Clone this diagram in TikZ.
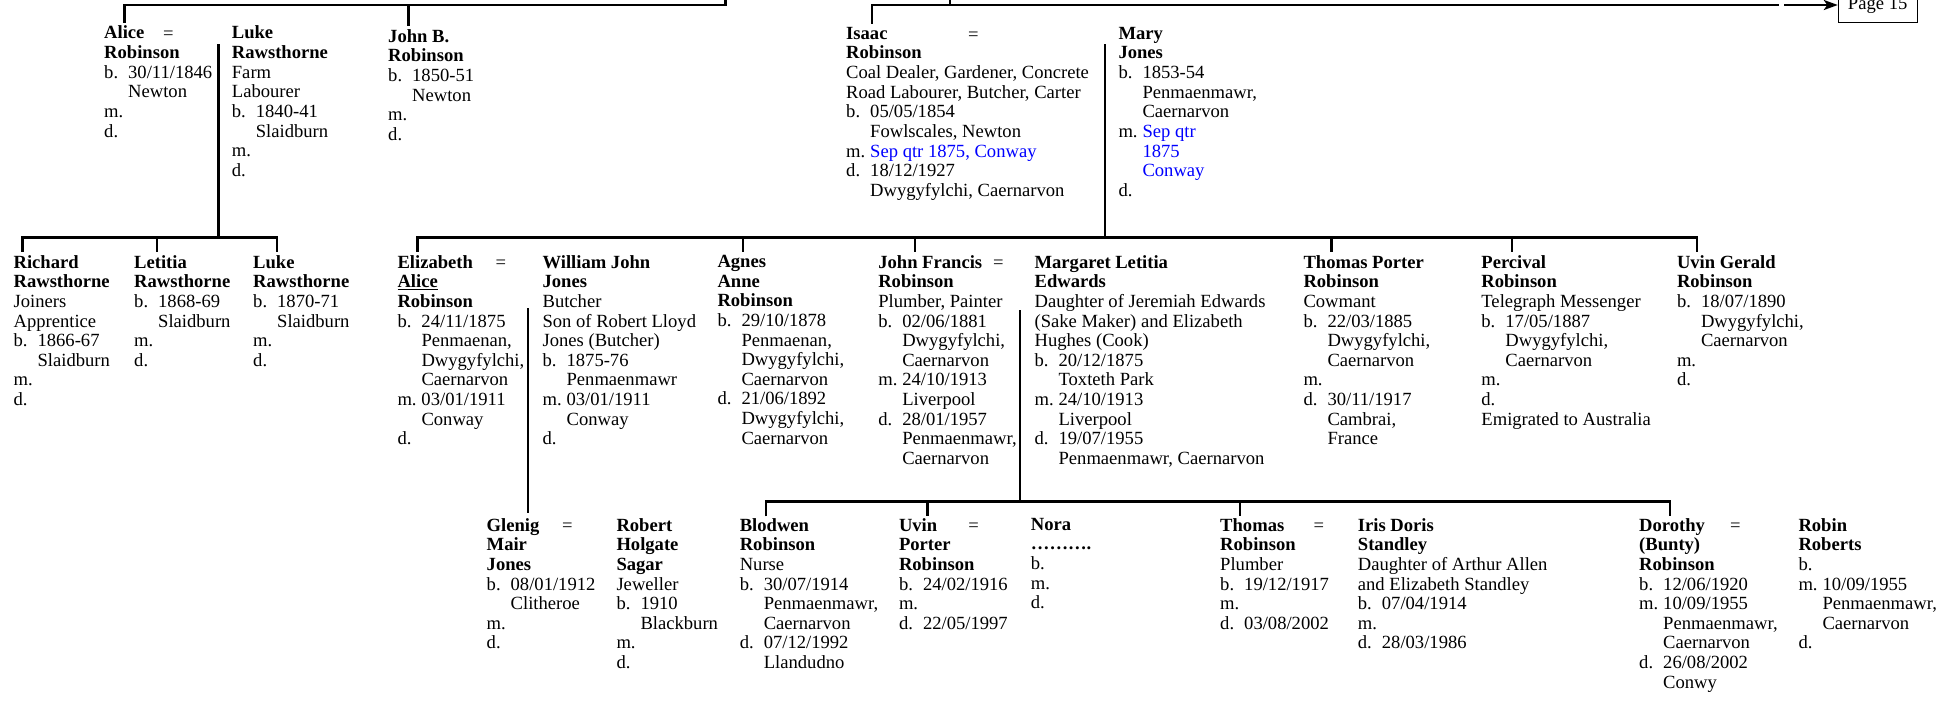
\documentclass[tikz,border=0pt]{standalone}
\usepackage{fontspec}
\setmainfont{Liberation Serif}
\usetikzlibrary{arrows.meta}
\definecolor{lnk}{RGB}{0,0,255}
\newcommand\pfont{\fontsize{18.6}{19.65}\selectfont}
\newcommand\lab[1]{\makebox[24pt][l]{#1}}
\newcommand\ind{\hspace*{24pt}}
\newcommand\bl[1]{\textcolor{lnk}{#1}}
\begin{document}
\begin{tikzpicture}[x=1pt,y=-1pt,
  person/.style={anchor=north west, inner sep=0pt, align=left, font=\pfont, execute at begin node=\strut},
  eqsign/.style={anchor=base west, inner sep=0pt, font=\pfont},
  line/.style={line width=2.5pt},
  dropline/.style={line width=2.5pt, shorten >=3pt},
]
\useasboundingbox (0,0) rectangle (1944,701);

% ---------- generation 1 ----------
\node[person] (alice) at (104,25.75) {\textbf{Alice}\\ \textbf{Robinson}\\ \lab{b.}30/11/1846\\ \ind Newton\\ m.\\ d.};
\node[eqsign] (eqalice) at (163,39.5) {=};
\node[person] (luke) at (231.7,25.75) {\textbf{Luke}\\ \textbf{Rawsthorne}\\ Farm\\ Labourer\\ \lab{b.}1840-41\\ \ind Slaidburn\\ m.\\ d.};
\node[person] (johnb) at (388,28.95) {\textbf{John B.}\\ \textbf{Robinson}\\ \lab{b.}1850-51\\ \ind Newton\\ m.\\ d.};
\node[person] (isaac) at (846,26.95) {\textbf{Isaac}\\ \textbf{Robinson}\\ Coal Dealer, Gardener, Concrete\\ Road Labourer, Butcher, Carter\\ \lab{b.}05/05/1854\\ \ind Fowlscales, Newton\\ \lab{m.}\bl{Sep qtr 1875, Conway}\\ \lab{d.}18/12/1927\\ \ind Dwygyfylchi, Caernarvon};
\node[eqsign] (eqisaac) at (968,40.7) {=};
\node[person] (mary) at (1118.3,26.95) {\textbf{Mary}\\ \textbf{Jones}\\ \lab{b.}1853-54\\ \ind Penmaenmawr,\\ \ind Caernarvon\\ \lab{m.}\bl{Sep qtr}\\ \ind\bl{1875}\\ \ind\bl{Conway}\\ d.};

\node[draw, line width=0.8pt, inner xsep=0pt, inner ysep=9.3pt, text height=12.2pt, text depth=4pt, minimum width=78.9pt, font=\pfont, anchor=south west] (p15) at (1837.8,23.3) {Page 15};

% ---------- generation 2 ----------
\node[person] (richard) at (13.4,254.95) {\textbf{Richard}\\ \textbf{Rawsthorne}\\ Joiners\\ Apprentice\\ \lab{b.}1866-67\\ \ind Slaidburn\\ m.\\ d.};
\node[person] (letitia) at (134,254.95) {\textbf{Letitia}\\ \textbf{Rawsthorne}\\ \lab{b.}1868-69\\ \ind Slaidburn\\ m.\\ d.};
\node[person] (luketwo) at (253,254.95) {\textbf{Luke}\\ \textbf{Rawsthorne}\\ \lab{b.}1870-71\\ \ind Slaidburn\\ m.\\ d.};
\node[person] (eliz) at (397.3,254.95) {\textbf{Elizabeth}\\ \textbf{\underline{Alice}}\\ \textbf{Robinson}\\ \lab{b.}24/11/1875\\ \ind Penmaenan,\\ \ind Dwygyfylchi,\\ \ind Caernarvon\\ \lab{m.}03/01/1911\\ \ind Conway\\ d.};
\node[eqsign] (eqeliz) at (495.5,268.7) {=};
\node[person] (william) at (542.4,254.95) {\textbf{William John}\\ \textbf{Jones}\\ Butcher\\ Son of Robert Lloyd\\ Jones (Butcher)\\ \lab{b.}1875-76\\ \ind Penmaenmawr\\ \lab{m.}03/01/1911\\ \ind Conway\\ d.};
\node[person] (agnes) at (717.3,254.95) {\textbf{Agnes}\\ \textbf{Anne}\\ \textbf{Robinson}\\ \lab{b.}29/10/1878\\ \ind Penmaenan,\\ \ind Dwygyfylchi,\\ \ind Caernarvon\\ \lab{d.}21/06/1892\\ \ind Dwygyfylchi,\\ \ind Caernarvon};
\node[person] (johnf) at (878.1,254.95) {\textbf{John Francis}\\ \textbf{Robinson}\\ Plumber, Painter\\ \lab{b.}02/06/1881\\ \ind Dwygyfylchi,\\ \ind Caernarvon\\ \lab{m.}24/10/1913\\ \ind Liverpool\\ \lab{d.}28/01/1957\\ \ind Penmaenmawr,\\ \ind Caernarvon};
\node[eqsign] (eqjohnf) at (993,268.7) {=};
\node[person] (margaret) at (1034.4,254.95) {\textbf{Margaret Letitia}\\ \textbf{Edwards}\\ Daughter of Jeremiah Edwards\\ (Sake Maker) and Elizabeth\\ Hughes (Cook)\\ \lab{b.}20/12/1875\\ \ind Toxteth Park\\ \lab{m.}24/10/1913\\ \ind Liverpool\\ \lab{d.}19/07/1955\\ \ind Penmaenmawr, Caernarvon};
\node[person] (thomasp) at (1303.3,254.95) {\textbf{Thomas Porter}\\ \textbf{Robinson}\\ Cowmant\\ \lab{b.}22/03/1885\\ \ind Dwygyfylchi,\\ \ind Caernarvon\\ m.\\ \lab{d.}30/11/1917\\ \ind Cambrai,\\ \ind France};
\node[person] (percival) at (1481.2,254.95) {\textbf{Percival}\\ \textbf{Robinson}\\ Telegraph Messenger\\ \lab{b.}17/05/1887\\ \ind Dwygyfylchi,\\ \ind Caernarvon\\ m.\\ d.\\ Emigrated to Australia};
\node[person] (uving) at (1676.8,254.95) {\textbf{Uvin Gerald}\\ \textbf{Robinson}\\ \lab{b.}18/07/1890\\ \ind Dwygyfylchi,\\ \ind Caernarvon\\ m.\\ d.};

% ---------- generation 3 ----------
\node[person] (glenig) at (486.5,517.95) {\textbf{Glenig}\\ \textbf{Mair}\\ \textbf{Jones}\\ \lab{b.}08/01/1912\\ \ind Clitheroe\\ m.\\ d.};
\node[eqsign] (eqglenig) at (562,531.7) {=};
\node[person] (robert) at (616.3,517.95) {\textbf{Robert}\\ \textbf{Holgate}\\ \textbf{Sagar}\\ Jeweller\\ \lab{b.}1910\\ \ind Blackburn\\ m.\\ d.};
\node[person] (blodwen) at (739.6,517.95) {\textbf{Blodwen}\\ \textbf{Robinson}\\ Nurse\\ \lab{b.}30/07/1914\\ \ind Penmaenmawr,\\ \ind Caernarvon\\ \lab{d.}07/12/1992\\ \ind Llandudno};
\node[person] (uvinp) at (898.8,517.95) {\textbf{Uvin}\\ \textbf{Porter}\\ \textbf{Robinson}\\ \lab{b.}24/02/1916\\ m.\\ \lab{d.}22/05/1997};
\node[eqsign] (equvin) at (968.2,531.7) {=};
\node[person] (nora) at (1030.7,517.95) {\textbf{Nora}\\ \textbf{……….}\\ b.\\ m.\\ d.};
\node[person] (thomas) at (1220,517.95) {\textbf{Thomas}\\ \textbf{Robinson}\\ Plumber\\ \lab{b.}19/12/1917\\ m.\\ \lab{d.}03/08/2002};
\node[eqsign] (eqthomas) at (1313.3,531.7) {=};
\node[person] (iris) at (1357.7,517.95) {\textbf{Iris Doris}\\ \textbf{Standley}\\ Daughter of Arthur Allen\\ and Elizabeth Standley\\ \lab{b.}07/04/1914\\ m.\\ \lab{d.}28/03/1986};
\node[person] (dorothy) at (1639,517.95) {\textbf{Dorothy}\\ \textbf{(Bunty)}\\ \textbf{Robinson}\\ \lab{b.}12/06/1920\\ \lab{m.}10/09/1955\\ \ind Penmaenmawr,\\ \ind Caernarvon\\ \lab{d.}26/08/2002\\ \ind Conwy};
\node[eqsign] (eqdor) at (1730,531.7) {=};
\node[person] (robin) at (1798.3,517.95) {\textbf{Robin}\\ \textbf{Roberts}\\ b.\\ \lab{m.}10/09/1955\\ \ind Penmaenmawr,\\ \ind Caernarvon\\ d.};

% ---------- connectors ----------
% top left: from above the page
\coordinate (tlA) at (124.5,5);
\coordinate (tlJ) at (408.5,5);
\coordinate (tlE) at (725.4,5);
\coordinate (tlU) at (725.4,-6);
\draw[line, shorten <=3pt] (tlA |- alice.north) -- (tlA) -- (tlE) -- (tlU);
\draw[dropline] (tlJ) -- (tlJ |- johnb.north);
% top right
\coordinate (trI) at (872,5);
\coordinate (trU) at (950,5);
\coordinate (trE) at (1778.5,5);
\coordinate (arS) at (1784.4,5);
\draw[line, shorten <=3pt] (trI |- isaac.north) -- (trI) -- (trE);
\draw[line] (trU) -- ++(0,-8);
\draw[line, -{Stealth[length=14pt,width=10pt,inset=3.5pt]}] (arS) -- (arS -| p15.west);

% Alice = Luke -> children
\coordinate (cAL) at (218.7,44.3);
\coordinate (bR1) at (22.3,237.3);
\coordinate (bR2) at (157,237.3);
\coordinate (bR3) at (276.8,237.3);
\draw[line] (cAL) -- (cAL |- bR1);
\draw[line, shorten <=3pt, shorten >=3pt] (bR1 |- richard.north) -- (bR1) -- (bR3) -- (bR3 |- luketwo.north);
\draw[dropline] (bR2) -- (bR2 |- letitia.north);

% Isaac = Mary -> children
\coordinate (cIM) at (1104.9,44.3);
\coordinate (bI1) at (417.4,237.3);
\coordinate (bI2) at (743,237.3);
\coordinate (bI3) at (915,237.3);
\coordinate (bI4) at (1331.7,237.3);
\coordinate (bI5) at (1512.1,237.3);
\coordinate (bI6) at (1697.1,237.3);
\draw[line] (cIM) -- (cIM |- bI1);
\draw[line, shorten <=3pt, shorten >=3pt] (bI1 |- eliz.north) -- (bI1) -- (bI6) -- (bI6 |- uving.north);
\draw[dropline] (bI2) -- (bI2 |- agnes.north);
\draw[dropline] (bI3) -- (bI3 |- johnf.north);
\draw[dropline] (bI4) -- (bI4 |- thomasp.north);
\draw[dropline] (bI5) -- (bI5 |- percival.north);

% Elizabeth = William -> Glenig
\coordinate (cEW) at (528,308.3);
\draw[line, shorten >=4.5pt] (cEW) -- (cEW |- glenig.north);

% John Francis = Margaret -> children
\coordinate (cJM) at (1019.9,310);
\coordinate (bJ1) at (766.2,501.5);
\coordinate (bJ2) at (927.4,501.5);
\coordinate (bJ3) at (1240,501.5);
\coordinate (bJ4) at (1670,501.5);
\draw[line] (cJM) -- (cJM |- bJ1);
\draw[line, shorten <=1.5pt, shorten >=1.5pt] (bJ1 |- blodwen.north) -- (bJ1) -- (bJ4) -- (bJ4 |- dorothy.north);
\draw[dropline, shorten >=1.5pt] (bJ2) -- (bJ2 |- uvinp.north);
\draw[dropline, shorten >=1.5pt] (bJ3) -- (bJ3 |- thomas.north);
\end{tikzpicture}
\end{document}
